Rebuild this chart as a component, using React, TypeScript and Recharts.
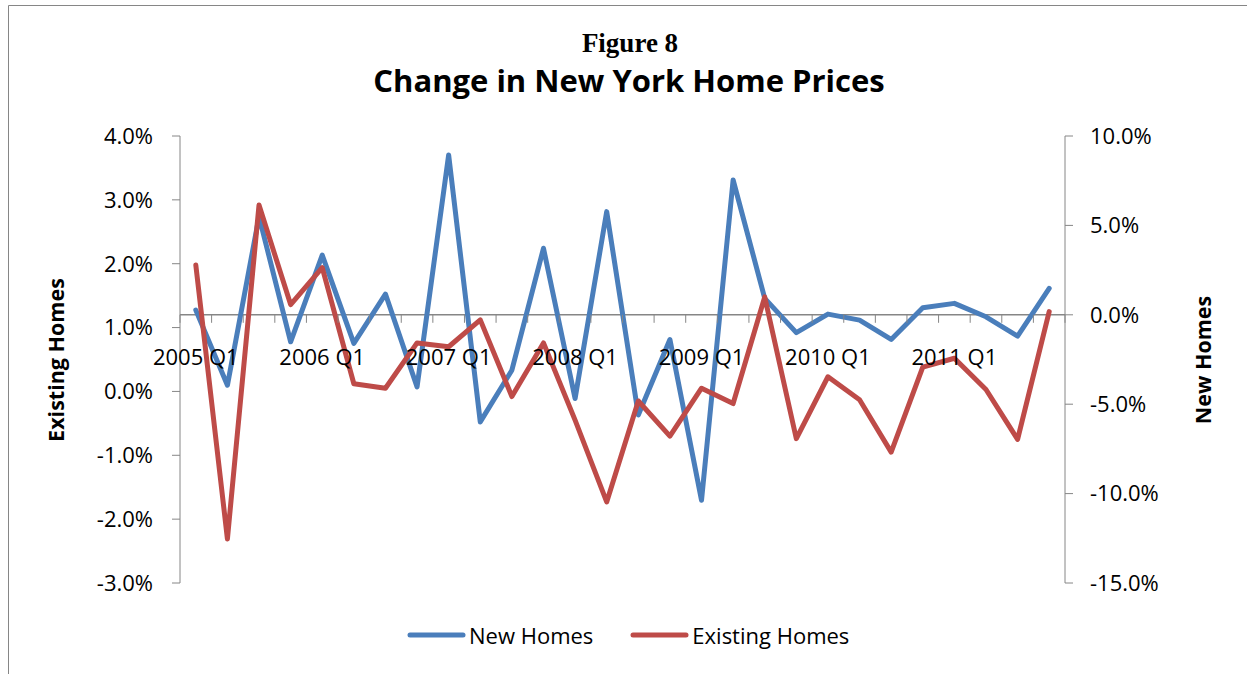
import { LineChart, Line, XAxis, YAxis, ReferenceLine, Legend } from 'recharts';

const quarters = [
    '2005 Q1', '2005 Q2', '2005 Q3', '2005 Q4',
    '2006 Q1', '2006 Q2', '2006 Q3', '2006 Q4',
    '2007 Q1', '2007 Q2', '2007 Q3', '2007 Q4',
    '2008 Q1', '2008 Q2', '2008 Q3', '2008 Q4',
    '2009 Q1', '2009 Q2', '2009 Q3', '2009 Q4',
    '2010 Q1', '2010 Q2', '2010 Q3', '2010 Q4',
    '2011 Q1', '2011 Q2', '2011 Q3', '2011 Q4',
];

// right axis, % change
const newHomes = [
    0.26, -3.94, 5.49, -1.51, 3.34, -1.6, 1.16, -4.03,
    8.94, -5.99, -3.1, 3.72, -4.68, 5.77, -5.6, -1.38,
    -10.37, 7.54, 0.92, -1.0, 0.04, -0.3, -1.38, 0.39,
    0.64, -0.11, -1.19, 1.48,
];

// left axis, % change
const existingHomes = [
    1.98, -2.31, 2.92, 1.36, 1.94, 0.12, 0.05, 0.76,
    0.7, 1.12, -0.08, 0.76, -0.45, -1.73, -0.15, -0.7,
    0.05, -0.19, 1.48, -0.74, 0.23, -0.13, -0.95, 0.38,
    0.52, 0.03, -0.75, 1.25,
];

const seriesNames = ['New Homes', 'Existing Homes'];
const leftTicks = [-3, -2, -1, 0, 1, 2, 3, 4];
const rightTicks = [-15, -10, -5, 0, 5, 10];

const COLORS = {
    blue: '#4A7EBB',
    red: '#BE4B48',
    axis: '#868686',
};

const W = 1247;
const H = 674;
const PLOT_LEFT = 180;
const PLOT_RIGHT = 1065;
const PLOT_TOP = 136;
const PLOT_BOTTOM = 583;
const XAXIS_H = 1;
const FONT = '"Open Sans", sans-serif';

const data = quarters.map((q, i) => ({
    quarter: q,
    newHomes: newHomes[i],
    existingHomes: existingHomes[i],
}));

const pct = (v: number) => v.toFixed(1) + '%';

// x axis crosses at 0 on the right axis
const R_MIN = rightTicks[0];
const R_MAX = rightTicks[rightTicks.length - 1];
const Y_CROSS = PLOT_TOP + (PLOT_BOTTOM - PLOT_TOP) * (R_MAX / (R_MAX - R_MIN));
const BAND = (PLOT_RIGHT - PLOT_LEFT) / quarters.length;

const XTick = (props: any) => {
    const { x, payload } = props;
    const idx = quarters.indexOf(payload.value);
    const showLabel = String(payload.value).endsWith('Q1');
    return (
        <g>
            <line x1={x - BAND / 2} x2={x - BAND / 2} y1={Y_CROSS} y2={Y_CROSS + 8} stroke={COLORS.axis} />
            {idx === quarters.length - 1 && (
                <line x1={x + BAND / 2} x2={x + BAND / 2} y1={Y_CROSS} y2={Y_CROSS + 8} stroke={COLORS.axis} />
            )}
            {showLabel && (
                <text x={x} y={Y_CROSS + 50} textAnchor="middle" fontFamily={FONT} fontSize={22} fill="#000">
                    {payload.value}
                </text>
            )}
        </g>
    );
};

const LegendContent = (props: any) => {
    const items = [...(props.payload || [])].sort(
        (a: any, b: any) => seriesNames.indexOf(a.value) - seriesNames.indexOf(b.value)
    );
    return (
        <div style={{ display: 'flex', alignItems: 'center', fontFamily: FONT, fontSize: 22, lineHeight: '30px', color: '#000' }}>
            {items.map((p: any, i: number) => (
                <div key={p.value} style={{ display: 'flex', alignItems: 'center', marginRight: i === 0 ? 37 : 0 }}>
                    <svg width={62} height={10}>
                        <line x1={3} x2={56} y1={5} y2={5} stroke={p.color} strokeWidth={5} strokeLinecap="round" />
                    </svg>
                    <span style={{ whiteSpace: 'nowrap' }}>{p.value}</span>
                </div>
            ))}
        </div>
    );
};

export default function App() {
    return (
        <div style={{ position: 'absolute', left: 0, top: 0, width: W, height: H, background: '#fff' }}>
            <svg width={W} height={H} style={{ position: 'absolute', left: 0, top: 0 }}>
                <line x1={8.5} x2={W} y1={5.5} y2={5.5} stroke={COLORS.axis} />
                <line x1={8.5} x2={8.5} y1={5.5} y2={H} stroke={COLORS.axis} />
                <text x={630} y={52} textAnchor="middle" fontFamily='"Liberation Serif", serif' fontWeight="bold" fontSize={27}>
                    Figure 8
                </text>
                <text x={629} y={92} textAnchor="middle" fontFamily={FONT} fontWeight="bold" fontSize={31}>
                    Change in New York Home Prices
                </text>
                <text x={64} y={360} transform="rotate(-90 64 360)" textAnchor="middle" fontFamily={FONT} fontWeight="bold" fontSize={21.5}>
                    Existing Homes
                </text>
                <text x={1211} y={360} transform="rotate(-90 1211 360)" textAnchor="middle" fontFamily={FONT} fontWeight="bold" fontSize={21.5}>
                    New Homes
                </text>
            </svg>
            <div style={{ position: 'absolute', left: 0, top: 0 }}>
                <LineChart
                    width={W}
                    height={H}
                    data={data}
                    margin={{ top: PLOT_TOP, right: 0, bottom: H - PLOT_BOTTOM - XAXIS_H, left: 0 }}
                >
                    <XAxis
                        dataKey="quarter"
                        axisLine={false}
                        tickLine={false}
                        interval={0}
                        height={XAXIS_H}
                        padding={{ left: BAND / 2, right: BAND / 2 }}
                        tick={<XTick />}
                    />
                    <YAxis
                        yAxisId="left"
                        orientation="left"
                        width={PLOT_LEFT}
                        domain={[leftTicks[0], leftTicks[leftTicks.length - 1]]}
                        ticks={leftTicks}
                        tickFormatter={pct}
                        allowDataOverflow
                        axisLine={{ stroke: COLORS.axis }}
                        tickLine={{ stroke: COLORS.axis }}
                        tickSize={8}
                        tickMargin={19}
                        tick={{ fontFamily: FONT, fontSize: 22, fill: '#000' }}
                    />
                    <YAxis
                        yAxisId="right"
                        orientation="right"
                        width={W - PLOT_RIGHT}
                        domain={[R_MIN, R_MAX]}
                        ticks={rightTicks}
                        tickFormatter={pct}
                        allowDataOverflow
                        axisLine={{ stroke: COLORS.axis }}
                        tickLine={{ stroke: COLORS.axis }}
                        tickSize={8}
                        tickMargin={17}
                        tick={{ fontFamily: FONT, fontSize: 22, fill: '#000' }}
                    />
                    <ReferenceLine yAxisId="right" y={0} stroke={COLORS.axis} strokeWidth={1.5} />
                    <Line
                        yAxisId="right"
                        dataKey="newHomes"
                        name={seriesNames[0]}
                        type="linear"
                        stroke={COLORS.blue}
                        strokeWidth={5}
                        strokeLinejoin="round"
                        strokeLinecap="round"
                        dot={false}
                        activeDot={false}
                        isAnimationActive={false}
                    />
                    <Line
                        yAxisId="left"
                        dataKey="existingHomes"
                        name={seriesNames[1]}
                        type="linear"
                        stroke={COLORS.red}
                        strokeWidth={5}
                        strokeLinejoin="round"
                        strokeLinecap="round"
                        dot={false}
                        activeDot={false}
                        isAnimationActive={false}
                    />
                    <Legend
                        layout="horizontal"
                        align="center"
                        verticalAlign="middle"
                        content={<LegendContent />}
                        wrapperStyle={{ top: 620, left: 407, width: 480, height: 30 }}
                    />
                </LineChart>
            </div>
        </div>
    );
}
